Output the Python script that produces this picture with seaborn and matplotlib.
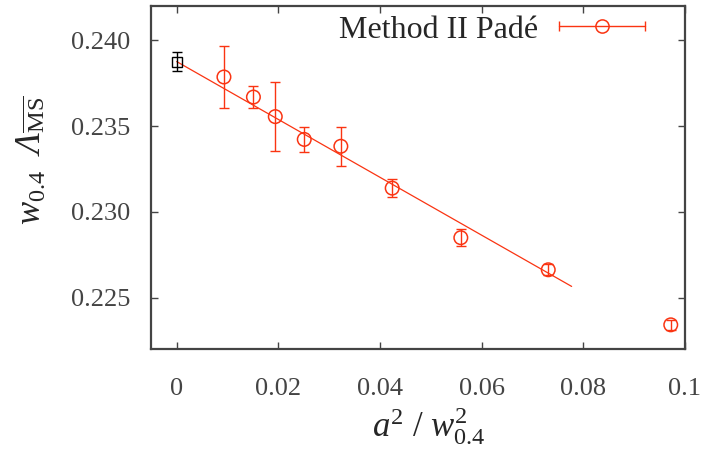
import numpy as np
import pandas as pd
import matplotlib
matplotlib.use("Agg")
import matplotlib.pyplot as plt
import seaborn as sns
from matplotlib.lines import Line2D
from matplotlib.legend_handler import HandlerLine2D, HandlerTuple

# data
a2_w2 = [0.0093, 0.0151, 0.0194, 0.0251, 0.0323, 0.0424, 0.0559, 0.0731, 0.0972]
w_lambda = [0.23786, 0.23669, 0.23555, 0.23422, 0.23382, 0.23138, 0.22849, 0.22662, 0.22341]
w_lambda_err = [0.00180, 0.00062, 0.00203, 0.00075, 0.00113, 0.00052, 0.00050, 0.00031, 0.00030]

cont_x = [0.0]
cont_y = [0.23876]
cont_err = [0.00054]

fit_x = [0.0, 0.0777]
fit_y = [0.23876, 0.22565]

xticks = [0, 0.02, 0.04, 0.06, 0.08, 0.1]
xticklabels = ["0", "0.02", "0.04", "0.06", "0.08", "0.1"]
yticks = [0.225, 0.230, 0.235, 0.240]
yticklabels = ["0.225", "0.230", "0.235", "0.240"]

red = "#fa3412"
grey = "#444444"

sns.set_style("ticks")
plt.rcParams["font.family"] = ["Liberation Serif", "DejaVu Serif"]
# italic serif for math letters (incl. capital Lambda), upright via \mathsf
plt.rcParams["mathtext.fontset"] = "custom"
plt.rcParams["mathtext.rm"] = "Liberation Serif:italic"
plt.rcParams["mathtext.it"] = "Liberation Serif:italic"
plt.rcParams["mathtext.sf"] = "Liberation Serif"

fig = plt.figure(figsize=(7.08, 4.57), dpi=100)
ax = fig.add_axes([0.2129, 0.2363, 0.7546, 0.7506])

df = pd.DataFrame({"x": a2_w2, "y": w_lambda, "err": w_lambda_err})
fit = pd.DataFrame({"x": fit_x, "y": fit_y})

sns.lineplot(data=fit, x="x", y="y", ax=ax, color=red, lw=0.9)
ax.errorbar(df["x"], df["y"], yerr=df["err"], fmt="none", ecolor=red,
            elinewidth=1.0, capsize=3.5, capthick=1.0)
sns.scatterplot(data=df, x="x", y="y", ax=ax, marker="o", s=95,
                facecolor="none", edgecolor=red, linewidth=1.1, zorder=4)

ax.errorbar(cont_x, cont_y, yerr=cont_err, fmt="s", color="black",
            mfc="none", ms=7, mew=1.0, elinewidth=1.0, capsize=3.5,
            capthick=1.0, zorder=5)

ax.set_xlim(-0.0051, 0.1)
ax.set_ylim(0.2220, 0.2420)
ax.set_xticks(xticks)
ax.set_xticklabels(xticklabels)
ax.set_yticks(yticks)
ax.set_yticklabels(yticklabels)
ax.tick_params(direction="in", length=5, width=1.0, color=grey,
               labelsize=19, labelcolor=grey, top=True, right=True)
ax.tick_params(axis="y", pad=15)
ax.tick_params(axis="x", pad=21)
for sp in ax.spines.values():
    sp.set_visible(True)
    sp.set_color(grey)
    sp.set_linewidth(1.6)

ax.set_xlabel(r"$a^{\mathsf{2}}\ \mathsf{/}\ w^{\mathsf{2}}_{\mathsf{0.4}}$",
              fontsize=25)
ax.set_ylabel(r"$w_{\mathsf{0.4}}\ \ \Lambda_{\overline{\mathsf{MS}}}$",
              fontsize=25)
ax.xaxis.set_label_coords(0.52, -0.162)
ax.yaxis.set_label_coords(-0.19, 0.55)

# gnuplot style key: horizontal error bar with circle on top
caps = Line2D([], [], color=red, lw=1.0, marker="|", ms=7, mew=1.0)
circ = Line2D([], [], color=red, ls="none", marker="o", ms=9.5,
              mfc="none", mew=1.1)
key = (caps, circ)
ax.legend([key], ["Method II Padé"], loc="center right",
          handler_map={caps: HandlerLine2D(numpoints=2),
                       circ: HandlerLine2D(numpoints=1),
                       key: HandlerTuple(ndivide=1)},
          markerfirst=False, frameon=False, fontsize=23, handlelength=3.3,
          handletextpad=0.35, borderaxespad=0, borderpad=0,
          bbox_to_anchor=(0.944, 0.930))

fig.savefig("out.png", dpi=100)
